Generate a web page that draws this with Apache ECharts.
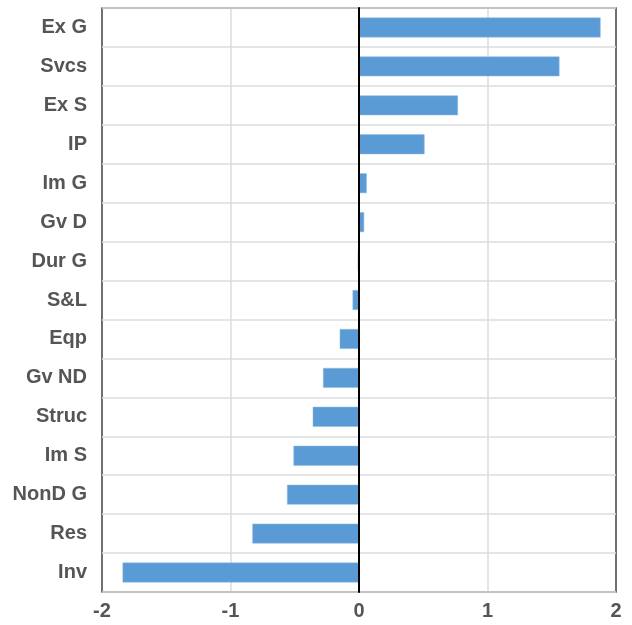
<!DOCTYPE html>
<html><head><meta charset="utf-8">
<script src="https://cdn.jsdelivr.net/npm/echarts@6/dist/echarts.min.js"></script>
<style>html,body{margin:0;padding:0;background:#fff}#c{width:632px;height:625px}</style>
</head><body><div id="c"></div>
<script>
var categories = ["Ex G","Svcs","Ex S","IP","Im G","Gv D","Dur G","S&L","Eqp","Gv ND","Struc","Im S","NonD G","Res","Inv"];
var values = [1.88,1.56,0.77,0.51,0.06,0.04,-0.01,-0.05,-0.15,-0.28,-0.36,-0.51,-0.56,-0.83,-1.84];
var xTicks = [-2,-1,0,1,2];
var chart = echarts.init(document.getElementById('c'));
var font = '"Liberation Sans Narrow", "Liberation Sans", Arial, sans-serif';
chart.setOption({
  animation:false,
  grid:{left:102,right:16,top:8,bottom:33,show:true,z:5,borderColor:'#4a4a4a',borderWidth:1.5,backgroundColor:'transparent'},
  xAxis:{type:'value',min:xTicks[0],max:xTicks[xTicks.length-1],interval:1,
    axisLine:{show:false},axisTick:{show:false},
    splitLine:{lineStyle:{color:'#dcdcdc',width:1.5}},
    axisLabel:{color:'#555',fontFamily:font,fontWeight:'bold',fontSize:20,margin:9}},
  yAxis:{type:'category',data:categories,inverse:true,z:6,
    axisLine:{onZero:true,lineStyle:{color:'#000',width:2}},axisTick:{show:false},
    splitLine:{show:true,lineStyle:{color:'#dcdcdc',width:1.5}},
    axisLabel:{color:'#555',fontFamily:font,fontWeight:'bold',fontSize:20,margin:15}},
  series:[{type:'bar',data:values,barWidth:'51%',
    itemStyle:{color:'#5b9bd5',borderColor:'#8fbbe3',borderWidth:0.5}}]
});
</script></body></html>
